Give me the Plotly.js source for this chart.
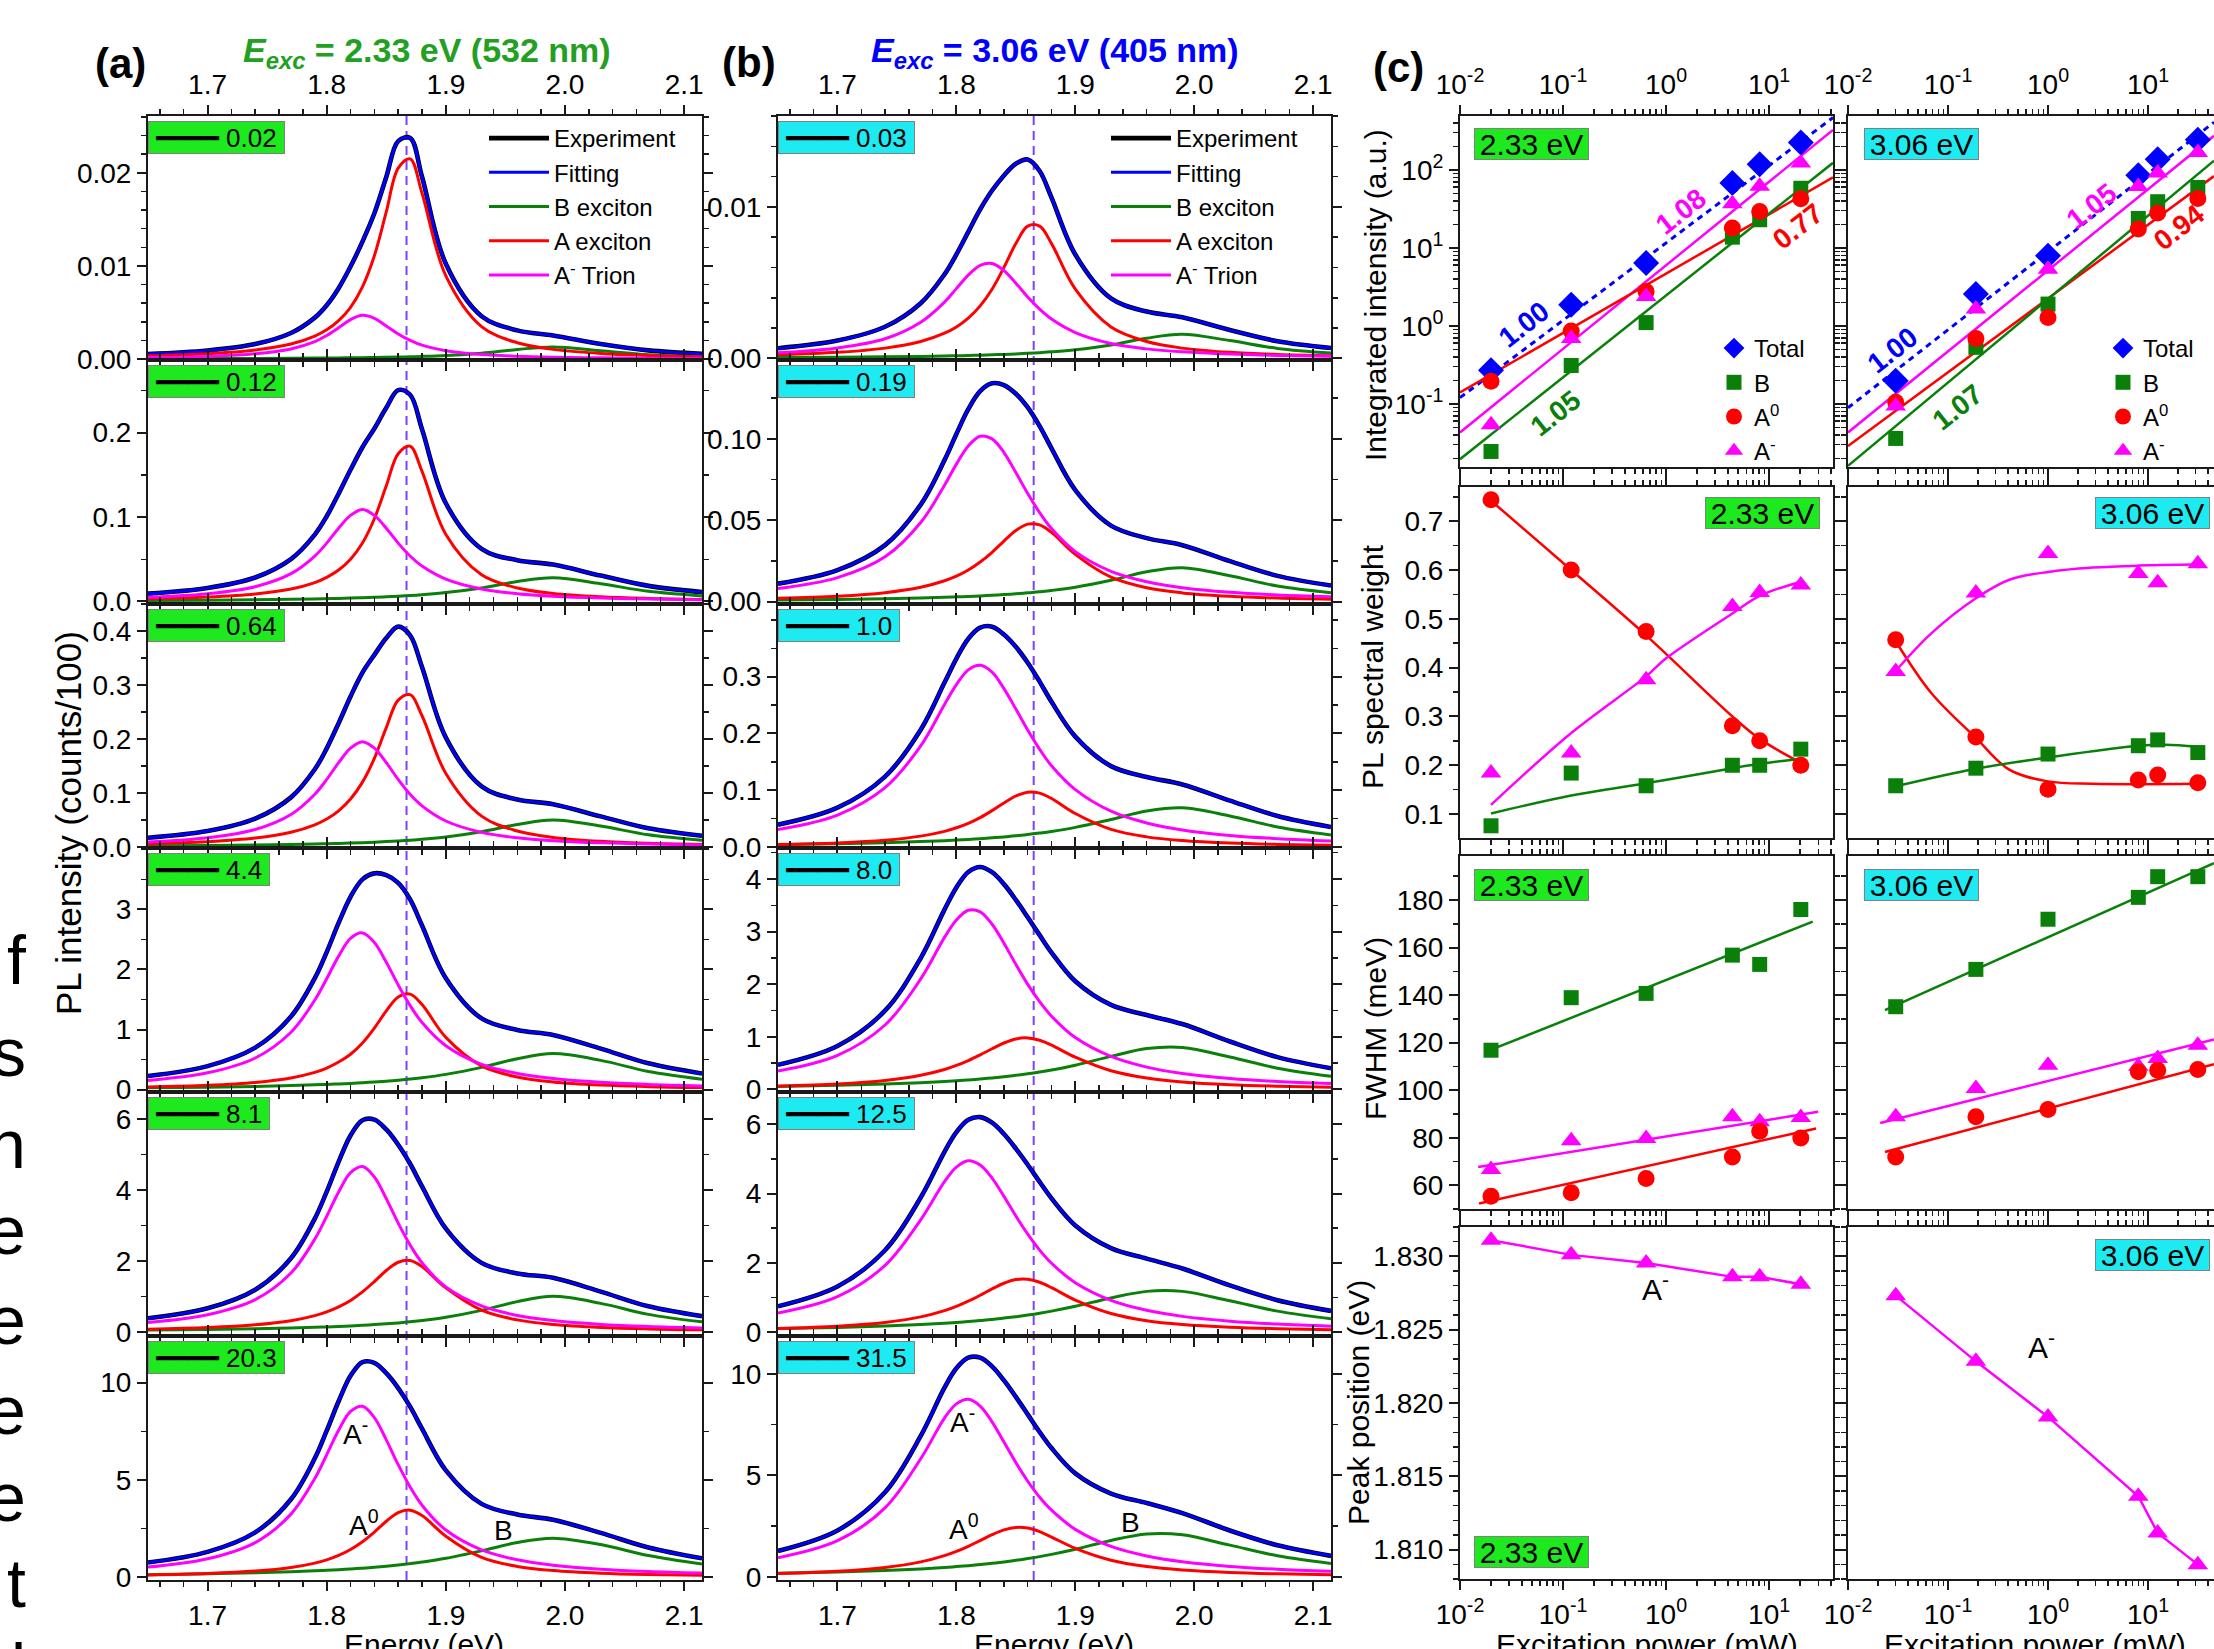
<!DOCTYPE html>
<html><head><meta charset="utf-8">
<script src="https://cdn.plot.ly/plotly-3.0.1.min.js"></script>
<style>html,body{margin:0;padding:0;background:#fff}#chart{width:2214px;height:1649px}</style>
</head><body><div id="chart"></div>
<script>
// ---------------- DATA ----------------
const energy = [1.65, 1.70, 1.74, 1.77, 1.79, 1.80, 1.81, 1.82, 1.83, 1.84, 1.85, 1.86, 1.87, 1.88, 1.90, 1.93, 1.96, 1.99, 2.03, 2.07, 2.115];
const energyTicks = [1.7, 1.8, 1.9, 2.0, 2.1];
const powers233 = [0.02, 0.12, 0.64, 4.4, 8.1, 20.3];
const powers306 = [0.03, 0.19, 1.0, 8.0, 12.5, 31.5];
const powerLabels233 = ['0.02', '0.12', '0.64', '4.4', '8.1', '20.3'];
const powerLabels306 = ['0.03', '0.19', '1.0', '8.0', '12.5', '31.5'];
const aExcitonLine233 = 1.867;
const aExcitonLine306 = 1.865;

// spectra components, 2.33 eV excitation (one array per power)
const specB233 = [
 [0.000037,0.000051,0.000068,0.000086,0.000102,0.000112,0.000124,0.000138,0.000153,0.000172,0.000193,0.000219,0.00025,0.000286,0.000386,0.000633,0.00103,0.0013,0.000885,0.000453,0.000234],
 [0.00112,0.00152,0.00201,0.00253,0.00302,0.00331,0.00363,0.004,0.00445,0.00494,0.00556,0.00623,0.00701,0.008,0.0105,0.016,0.0236,0.028,0.021,0.012,0.0066],
 [0.00204,0.00276,0.00364,0.00458,0.00542,0.00595,0.00655,0.00719,0.00795,0.00883,0.0099,0.0111,0.0125,0.0142,0.0185,0.0282,0.0415,0.05,0.0388,0.0225,0.0124],
 [0.03,0.0404,0.053,0.0666,0.0786,0.0858,0.0942,0.103,0.115,0.126,0.14,0.157,0.176,0.197,0.253,0.37,0.514,0.599,0.486,0.302,0.173],
 [0.0477,0.0641,0.0846,0.106,0.125,0.137,0.15,0.165,0.182,0.202,0.224,0.25,0.282,0.318,0.409,0.604,0.851,0.999,0.802,0.49,0.279],
 [0.125,0.168,0.219,0.274,0.322,0.35,0.382,0.418,0.46,0.506,0.56,0.622,0.692,0.772,0.966,1.352,1.78,2.0,1.672,1.108,0.67]];
const specA0_233 = [
 [0.000344,0.000575,0.000977,0.00162,0.00247,0.00314,0.00412,0.00556,0.00776,0.0111,0.0158,0.0205,0.0215,0.0178,0.00894,0.00349,0.00175,0.00104,0.0006,0.00039,0.00026],
 [0.00316,0.00526,0.00891,0.0148,0.0224,0.0285,0.0372,0.05,0.0692,0.098,0.137,0.175,0.184,0.154,0.0794,0.0316,0.016,0.00947,0.00552,0.00359,0.00242],
 [0.00587,0.0098,0.0165,0.0272,0.0409,0.0516,0.0667,0.0886,0.12,0.164,0.221,0.272,0.282,0.243,0.136,0.057,0.0294,0.0176,0.0103,0.0067,0.00453],
 [0.0429,0.071,0.119,0.194,0.286,0.358,0.458,0.589,0.776,1.024,1.309,1.542,1.589,1.416,0.869,0.394,0.21,0.126,0.0744,0.0488,0.033],
 [0.0713,0.118,0.195,0.311,0.455,0.56,0.701,0.885,1.125,1.418,1.729,1.963,2.01,1.84,1.238,0.612,0.335,0.207,0.123,0.081,0.055],
 [0.112,0.185,0.307,0.493,0.718,0.887,1.111,1.415,1.815,2.315,2.87,3.319,3.441,3.164,2.105,1.014,0.549,0.335,0.198,0.13,0.0883]];
const specAm233 = [
 [0.000156,0.000289,0.00056,0.00109,0.00188,0.00253,0.00337,0.00424,0.0047,0.00438,0.00356,0.00269,0.002,0.00149,0.0009,0.00048,0.0003,0.0002,0.00013,0.00009,0.00006],
 [0.005,0.00922,0.0175,0.0329,0.0538,0.0691,0.0868,0.102,0.109,0.102,0.0868,0.0691,0.0538,0.0419,0.0264,0.0147,0.00922,0.00626,0.0041,0.00287,0.00205],
 [0.00917,0.0169,0.0322,0.06,0.0975,0.125,0.156,0.183,0.195,0.183,0.156,0.125,0.0975,0.0761,0.048,0.0269,0.0169,0.0115,0.0075,0.00527,0.00376],
 [0.153,0.279,0.526,0.955,1.49,1.845,2.221,2.516,2.607,2.448,2.119,1.741,1.399,1.117,0.731,0.42,0.269,0.184,0.121,0.0859,0.0613],
 [0.261,0.479,0.906,1.658,2.615,3.26,3.946,4.493,4.665,4.371,3.759,3.068,2.452,1.947,1.266,0.729,0.461,0.316,0.208,0.147,0.106],
 [0.513,0.942,1.774,3.238,5.069,6.292,7.55,8.518,8.782,8.202,7.058,5.782,4.638,3.696,2.42,1.399,0.889,0.612,0.404,0.285,0.205]];

// spectra components, 3.06 eV excitation
const specB306 = [
 [0.000061,0.000082,0.000109,0.000138,0.000163,0.000179,0.000197,0.000218,0.000242,0.00027,0.000302,0.000339,0.000384,0.000437,0.000578,0.000894,0.00134,0.0016,0.00118,0.000666,0.000362],
 [0.00099,0.00134,0.00177,0.00223,0.00264,0.00289,0.00316,0.00347,0.00387,0.00431,0.00478,0.00535,0.00605,0.00682,0.00882,0.0131,0.0183,0.0208,0.0159,0.00955,0.00543],
 [0.00424,0.00571,0.00752,0.00945,0.0111,0.0121,0.0132,0.0146,0.0161,0.0177,0.0197,0.0219,0.0245,0.0274,0.0345,0.0484,0.0632,0.0689,0.0546,0.0353,0.0213],
 [0.0569,0.0773,0.102,0.128,0.151,0.164,0.18,0.198,0.218,0.241,0.267,0.296,0.33,0.369,0.459,0.627,0.776,0.798,0.615,0.403,0.249],
 [0.0946,0.128,0.169,0.212,0.25,0.274,0.298,0.328,0.359,0.398,0.439,0.487,0.54,0.6,0.739,0.98,1.171,1.171,0.899,0.6,0.378],
 [0.171,0.233,0.308,0.387,0.458,0.501,0.548,0.601,0.661,0.73,0.809,0.895,0.993,1.104,1.359,1.791,2.106,2.067,1.558,1.036,0.655]];
const specA0_306 = [
 [0.000243,0.000405,0.000683,0.00112,0.00167,0.00208,0.00266,0.00347,0.00457,0.00601,0.00758,0.00873,0.00873,0.00758,0.00457,0.00208,0.00112,0.000683,0.000405,0.000267,0.000181],
 [0.00199,0.00329,0.00546,0.00878,0.0128,0.0156,0.0194,0.0243,0.0303,0.0372,0.0437,0.0476,0.0471,0.0425,0.029,0.015,0.0085,0.00533,0.00322,0.00214,0.00146],
 [0.00433,0.00717,0.0119,0.0191,0.0275,0.0338,0.0417,0.0518,0.064,0.0776,0.0898,0.0966,0.0948,0.0854,0.0589,0.031,0.0178,0.0113,0.00685,0.00456,0.00312],
 [0.0619,0.102,0.17,0.268,0.378,0.455,0.548,0.656,0.772,0.882,0.959,0.979,0.934,0.841,0.611,0.353,0.215,0.141,0.0879,0.0597,0.0415],
 [0.0985,0.164,0.272,0.433,0.614,0.737,0.886,1.059,1.242,1.406,1.512,1.522,1.434,1.278,0.92,0.532,0.324,0.214,0.135,0.0918,0.0636],
 [0.164,0.273,0.461,0.734,1.044,1.254,1.503,1.784,2.072,2.308,2.433,2.401,2.223,1.959,1.401,0.815,0.503,0.333,0.211,0.145,0.101]];
const specAm306 = [
 [0.000374,0.000693,0.0013,0.00239,0.00372,0.00461,0.0055,0.00615,0.00627,0.0058,0.00497,0.00406,0.00326,0.0026,0.00171,0.00099,0.000634,0.000437,0.000289,0.000204,0.000147],
 [0.008,0.0147,0.0275,0.0486,0.0715,0.0845,0.0957,0.1016,0.1,0.0916,0.0793,0.0664,0.0547,0.0449,0.0307,0.0186,0.0122,0.00854,0.00572,0.00409,0.00297],
 [0.0307,0.0563,0.1046,0.178,0.251,0.286,0.312,0.32,0.308,0.279,0.243,0.206,0.172,0.143,0.101,0.063,0.0422,0.03,0.0203,0.0147,0.0107],
 [0.348,0.646,1.224,2.1,2.89,3.222,3.406,3.376,3.14,2.78,2.377,1.997,1.669,1.392,0.985,0.626,0.423,0.303,0.207,0.15,0.11],
 [0.545,1.02,1.921,3.242,4.346,4.767,4.95,4.826,4.45,3.92,3.351,2.826,2.366,1.985,1.421,0.911,0.623,0.448,0.309,0.225,0.165],
 [0.936,1.776,3.395,5.819,7.823,8.523,8.75,8.418,7.639,6.641,5.626,4.708,3.92,3.281,2.336,1.496,1.026,0.74,0.51,0.372,0.274]];

// (c) integrated intensity
const intTotal233 = [0.27, 1.86, 6.4, 68, 118, 224];
const intB233 = [0.0245, 0.31, 1.1, 13.7, 22.9, 58];
const intA0_233 = [0.195, 0.86, 2.75, 17.9, 29.2, 42.5];
const intAm233 = [0.054, 0.69, 2.37, 36.6, 61.4, 122];
const intTotal306 = [0.197, 2.55, 7.9, 85.5, 137, 243];
const intB306 = [0.036, 0.53, 1.9, 23.8, 39, 59.4];
const intA0_306 = [0.105, 0.69, 1.28, 17.4, 27.9, 43];
const intAm306 = [0.094, 1.64, 5.3, 61, 91, 167];
const intFitP233 = [0.01, 41.7];
const intFitTotal233 = [0.12, 468];
const intFitAm233 = [0.043, 325];
const intFitA0_233 = [0.14, 80];
const intFitB233 = [0.0195, 123];
const intFitP306 = [0.01, 45.7];
const intFitTotal306 = [0.089, 407];
const intFitAm306 = [0.043, 273];
const intFitA0_306 = [0.0288, 83];
const intFitB306 = [0.016, 131];
const slopeLabels233 = ['1.00', '1.08', '0.77', '1.05'];
const slopeLabels306 = ['1.00', '1.05', '0.94', '1.07'];

// (c) spectral weight
const wA0_233 = [0.744, 0.600, 0.474, 0.281, 0.250, 0.200];
const wAm233 = [0.184, 0.225, 0.375, 0.525, 0.554, 0.569];
const wB233 = [0.076, 0.184, 0.158, 0.200, 0.200, 0.233];
const wFitA0_233x = [0.02, 0.12, 0.64, 4.4, 8.1, 20.3];
const wFitA0_233y = [0.742, 0.600, 0.466, 0.300, 0.254, 0.205];
const wFitAm233x = [0.02, 0.12, 0.64, 1.0, 4.4, 8.1, 20.3];
const wFitAm233y = [0.119, 0.266, 0.382, 0.419, 0.511, 0.547, 0.576];
const wFitB233x = [0.02, 0.12, 0.64, 4.4, 8.1, 20.3];
const wFitB233y = [0.101, 0.138, 0.163, 0.194, 0.203, 0.213];
const wA0_306 = [0.457, 0.258, 0.151, 0.170, 0.180, 0.164];
const wAm306 = [0.392, 0.553, 0.634, 0.593, 0.574, 0.613];
const wB306 = [0.158, 0.194, 0.223, 0.240, 0.252, 0.226];
const wFitAm306x = [0.03, 0.068, 0.19, 0.41, 1.0, 2.8, 8.0, 31.5];
const wFitAm306y = [0.393, 0.470, 0.542, 0.580, 0.596, 0.605, 0.609, 0.611];
const wFitA0_306x = [0.03, 0.068, 0.19, 0.41, 1.0, 2.8, 31.5];
const wFitA0_306y = [0.454, 0.348, 0.256, 0.191, 0.167, 0.162, 0.162];
const wFitB306x = [0.03, 0.19, 1.0, 8.0, 15, 31.5];
const wFitB306y = [0.157, 0.193, 0.216, 0.240, 0.242, 0.238];

// (c) FWHM (meV)
const fwB233 = [116.8, 138.9, 140.7, 156.8, 152.9, 176];
const fwAm233 = [66.6, 78.7, 79.7, 88.8, 86.7, 88.5];
const fwA0_233 = [55.4, 56.8, 62.8, 71.9, 82.7, 79.9];
const fwFitB233x = [0.0195, 26.5], fwFitB233y = [116.8, 170.9];
const fwFitAm233x = [0.015, 29.9], fwFitAm233y = [67.7, 90.9];
const fwFitA0_233x = [0.0153, 28.6], fwFitA0_233y = [52.3, 83.9];
const fwB306 = [135.1, 150.8, 171.9, 181.1, 189.8, 189.8];
const fwAm306 = [88.8, 100.7, 110.5, 110.1, 113.3, 118.9];
const fwA0_306 = [71.9, 88.8, 91.9, 107.7, 108.4, 108.7];
const fwFitB306x = [0.0234, 45.7], fwFitB306y = [133.7, 195.5];
const fwFitAm306x = [0.021, 45.7], fwFitAm306y = [86.2, 121.3];
const fwFitA0_306x = [0.0234, 45.7], fwFitA0_306y = [74.0, 110.9];

// (c) A- peak position (eV)
const posAm233 = [1.8311, 1.8301, 1.82955, 1.8286, 1.8286, 1.8281];
const posAm306 = [1.82732, 1.82284, 1.81905, 1.81364, 1.81114, 1.80898];

// ---------------- LAYOUT HELPERS ----------------
const W = 2214, H = 1649;
const FONT = '"Liberation Sans", Arial, "DejaVu Sans", sans-serif';
const px = x => x / W;
const py = y => 1 - y / H;
const dom = r => [1 - r[1] / H, 1 - r[0] / H];
const axId = k => (k === 1 ? '' : String(k));
const xa = k => 'x' + axId(k);
const ya = k => 'y' + axId(k);

const C = {blue: '#0000ff', green: '#0a800a', red: '#ff0000', mag: '#ff00ff', black: '#000000'};
const GREEN_BOX = '#1ee81e', CYAN_BOX = '#1eeaf2';
const LC = '#1a1a1a';

const rowsAB = [[116,360],[360,604],[604,848],[848,1092],[1092,1336],[1336,1580]];
const domA = [148 / W, 702 / W], domB = [778 / W, 1331 / W];
const rowsC = [[116,467],[487,838],[856,1209],[1227,1579]];
const domC1 = [1460 / W, 1833 / W], domC2 = [1848 / W, 1];

const minorBase = {ticks: 'outside', ticklen: 5, tickwidth: 1.5, tickcolor: LC, showgrid: false};
const baseAxis = {showgrid: false, zeroline: false, showline: true, linecolor: LC, linewidth: 2,
  mirror: 'ticks', ticks: 'outside', ticklen: 9, tickwidth: 2, tickcolor: LC,
  tickfont: {family: FONT, size: 28, color: '#000'}, fixedrange: true};

const logTickVals = [0.01, 0.1, 1, 10, 100];
const logTickText = ['10<sup>-2</sup>', '10<sup>-1</sup>', '10<sup>0</sup>', '10<sup>1</sup>', '10<sup>2</sup>'];
const logMinor = [];
for (let d = -2; d <= 2; d++) for (let m = 2; m <= 9; m++) logMinor.push(+(m * Math.pow(10, d)).toPrecision(3));

const yCfgA = [
 {range: [-0.0001, 0.0261], vals: [0, 0.01, 0.02], fmt: '.2f', minor: 0.002},
 {range: [-0.003, 0.286], vals: [0, 0.1, 0.2], fmt: '.1f', minor: 0.05},
 {range: [-0.002, 0.45], vals: [0, 0.1, 0.2, 0.3, 0.4], fmt: '.1f', minor: 0.05},
 {range: [-0.04, 4.02], vals: [0, 1, 2, 3], fmt: 'd', minor: 0.5},
 {range: [-0.12, 6.77], vals: [0, 2, 4, 6], fmt: 'd', minor: 1},
 {range: [-0.15, 12.4], vals: [0, 5, 10], fmt: 'd', minor: 2.5}];
const yCfgB = [
 {range: [-0.0001, 0.016], vals: [0, 0.01], fmt: '.2f', minor: 0.002},
 {range: [-0.0015, 0.1485], vals: [0, 0.05, 0.1], fmt: '.2f', minor: 0.025},
 {range: [-0.0018, 0.428], vals: [0, 0.1, 0.2, 0.3], fmt: '.1f', minor: 0.05},
 {range: [-0.05, 4.59], vals: [0, 1, 2, 3, 4], fmt: 'd', minor: 0.5},
 {range: [-0.12, 6.94], vals: [0, 2, 4, 6], fmt: 'd', minor: 1},
 {range: [-0.16, 11.87], vals: [0, 5, 10], fmt: 'd', minor: 2.5}];

const layout = {width: W, height: H, margin: {l: 0, r: 0, t: 0, b: 0}, paper_bgcolor: '#fff', plot_bgcolor: 'rgba(0,0,0,0)',
  font: {family: FONT, size: 26, color: '#000'}, showlegend: true, annotations: [], shapes: []};
const traces = [];

function specX(domain, k, pos) {
  return Object.assign({}, baseAxis, {domain, anchor: ya(k), range: [1.65, 2.115], side: pos === 'top' ? 'top' : 'bottom',
    showticklabels: pos !== 'mid', tickmode: 'array', tickvals: energyTicks, tickformat: '.1f',
    minor: Object.assign({}, minorBase, {tickmode: 'linear', tick0: 1.7, dtick: 0.02})});
}
function specY(k, row, cfg) {
  return Object.assign({}, baseAxis, {domain: dom(row), anchor: xa(k), range: cfg.range, tickmode: 'array', tickvals: cfg.vals,
    tickformat: cfg.fmt, minor: Object.assign({}, minorBase, {tickmode: 'linear', tick0: 0, dtick: cfg.minor})});
}
function addSpectrum(k, b, a0, am, legendId, show) {
  const fit = energy.map((_, i) => b[i] + a0[i] + am[i]);
  const common = {xaxis: xa(k), yaxis: ya(k), mode: 'lines', showlegend: show, hoverinfo: 'skip'};
  if (show) common.legend = legendId;
  traces.push(Object.assign({}, common, {x: energy, y: fit, name: 'Experiment', line: {color: C.black, width: 4.6, shape: 'spline'}}));
  traces.push(Object.assign({}, common, {x: energy, y: fit, name: 'Fitting', line: {color: C.blue, width: 3, shape: 'spline'}}));
  traces.push(Object.assign({}, common, {x: energy, y: b, name: 'B exciton', line: {color: C.green, width: 3, shape: 'spline'}}));
  traces.push(Object.assign({}, common, {x: energy, y: a0, name: 'A exciton', line: {color: C.red, width: 3, shape: 'spline'}}));
  traces.push(Object.assign({}, common, {x: energy, y: am, name: 'A<sup>-</sup> Trion', line: {color: C.mag, width: 3, shape: 'spline'}}));
}
function powerBox(k, label, color) {
  return {xref: xa(k) + ' domain', yref: ya(k) + ' domain', x: 0, y: 1, xanchor: 'left', yanchor: 'top', yshift: -5,
    text: '\u00a0\u2501\u2501\u2501\u2501\u00a0' + label + '\u00a0', showarrow: false, bgcolor: color, bordercolor: '#808080',
    borderwidth: 1, borderpad: 0, height: 31, font: {family: FONT, size: 26, color: '#000'}};
}

// panels (a) and (b)
for (let i = 0; i < 6; i++) {
  const pos = i === 0 ? 'top' : (i === 5 ? 'bottom' : 'mid');
  const kA = i + 1, kB = i + 7;
  layout['xaxis' + axId(kA)] = specX(domA, kA, pos);
  layout['yaxis' + axId(kA)] = specY(kA, rowsAB[i], yCfgA[i]);
  layout['xaxis' + axId(kB)] = specX(domB, kB, pos);
  layout['yaxis' + axId(kB)] = specY(kB, rowsAB[i], yCfgB[i]);
  addSpectrum(kA, specB233[i], specA0_233[i], specAm233[i], 'legend', i === 0);
  addSpectrum(kB, specB306[i], specA0_306[i], specAm306[i], 'legend2', i === 0);
  layout.annotations.push(powerBox(kA, powerLabels233[i], GREEN_BOX));
  layout.annotations.push(powerBox(kB, powerLabels306[i], CYAN_BOX));
}
layout.shapes.push({type: 'line', xref: 'x', yref: 'paper', x0: aExcitonLine233, x1: aExcitonLine233, y0: py(1580), y1: py(116),
  line: {color: '#7f3fff', width: 2, dash: '9px,6px'}, layer: 'below'});
layout.shapes.push({type: 'line', xref: 'x7', yref: 'paper', x0: aExcitonLine306, x1: aExcitonLine306, y0: py(1580), y1: py(116),
  line: {color: '#7f3fff', width: 2, dash: '9px,6px'}, layer: 'below'});

// panel (c)
const cY = [
 {type: 'log', range: [-1.81, 2.69], tickmode: 'array', tickvals: logTickVals, ticktext: logTickText,
  minor: Object.assign({}, minorBase, {tickmode: 'array', tickvals: logMinor})},
 {range: [0.051, 0.77], tickmode: 'array', tickvals: [0.1, 0.2, 0.3, 0.4, 0.5, 0.6, 0.7], tickformat: '.1f',
  minor: Object.assign({}, minorBase, {tickmode: 'linear', tick0: 0, dtick: 0.05})},
 {range: [50, 198.5], tickmode: 'array', tickvals: [60, 80, 100, 120, 140, 160, 180], tickformat: 'd',
  minor: Object.assign({}, minorBase, {tickmode: 'linear', tick0: 0, dtick: 10})},
 {range: [1.808, 1.832], tickmode: 'array', tickvals: [1.81, 1.815, 1.82, 1.825, 1.83], tickformat: '.3f',
  minor: Object.assign({}, minorBase, {tickmode: 'linear', tick0: 1.8, dtick: 0.001})}];
const ck = (row, col) => 13 + row * 2 + col;
for (let r = 0; r < 4; r++) {
  for (let c = 0; c < 2; c++) {
    const k = ck(r, c);
    layout['xaxis' + axId(k)] = Object.assign({}, baseAxis, {type: 'log', domain: c === 0 ? domC1 : domC2, anchor: ya(k),
      range: c === 0 ? [-2, 1.62] : [-2, 1.66], side: r === 0 ? 'top' : 'bottom', showticklabels: r === 0 || r === 3,
      tickmode: 'array', tickvals: logTickVals, ticktext: logTickText,
      minor: Object.assign({}, minorBase, {tickmode: 'array', tickvals: logMinor})});
    layout['yaxis' + axId(k)] = Object.assign({}, baseAxis, cY[r], {domain: dom(rowsC[r]), anchor: xa(k),
      showticklabels: c === 0, mirror: c === 0 ? 'ticks' : false});
  }
}
function addMarkers(k, x, y, name, symbol, color, size, legendId) {
  const t = {x, y, xaxis: xa(k), yaxis: ya(k), mode: 'markers', name, showlegend: !!legendId, hoverinfo: 'skip',
    marker: {symbol, color, size, line: {width: 0}}};
  if (legendId) t.legend = legendId;
  traces.push(t);
}
function addLine(k, x, y, color, opts) {
  opts = opts || {};
  const t = {x, y, xaxis: xa(k), yaxis: ya(k), mode: opts.mode || 'lines', showlegend: false, hoverinfo: 'skip',
    line: {color, width: opts.width || 2.5, dash: opts.dash || 'solid', shape: opts.shape || 'linear'}};
  if (opts.marker) t.marker = opts.marker;
  traces.push(t);
}
// row 1: integrated intensity
addLine(ck(0,0), intFitP233, intFitTotal233, C.blue, {dash: '6px,5px', width: 3});
addLine(ck(0,0), intFitP233, intFitAm233, C.mag);
addLine(ck(0,0), intFitP233, intFitA0_233, C.red);
addLine(ck(0,0), intFitP233, intFitB233, C.green);
addMarkers(ck(0,0), powers233, intTotal233, 'Total', 'diamond', C.blue, 20, 'legend3');
addMarkers(ck(0,0), powers233, intB233, 'B', 'square', C.green, 15, 'legend3');
addMarkers(ck(0,0), powers233, intA0_233, 'A<sup>0</sup>', 'circle', C.red, 17, 'legend3');
addMarkers(ck(0,0), powers233, intAm233, 'A<sup>-</sup>', 'triangle-up', C.mag, 18, 'legend3');
addLine(ck(0,1), intFitP306, intFitTotal306, C.blue, {dash: '6px,5px', width: 3});
addLine(ck(0,1), intFitP306, intFitAm306, C.mag);
addLine(ck(0,1), intFitP306, intFitA0_306, C.red);
addLine(ck(0,1), intFitP306, intFitB306, C.green);
addMarkers(ck(0,1), powers306, intTotal306, 'Total', 'diamond', C.blue, 20, 'legend4');
addMarkers(ck(0,1), powers306, intB306, 'B', 'square', C.green, 15, 'legend4');
addMarkers(ck(0,1), powers306, intA0_306, 'A<sup>0</sup>', 'circle', C.red, 17, 'legend4');
addMarkers(ck(0,1), powers306, intAm306, 'A<sup>-</sup>', 'triangle-up', C.mag, 18, 'legend4');
// row 2: spectral weight
addLine(ck(1,0), wFitA0_233x, wFitA0_233y, C.red, {shape: 'spline'});
addLine(ck(1,0), wFitAm233x, wFitAm233y, C.mag, {shape: 'spline'});
addLine(ck(1,0), wFitB233x, wFitB233y, C.green, {shape: 'spline'});
addMarkers(ck(1,0), powers233, wA0_233, 'A0', 'circle', C.red, 17);
addMarkers(ck(1,0), powers233, wAm233, 'A-', 'triangle-up', C.mag, 18);
addMarkers(ck(1,0), powers233, wB233, 'B', 'square', C.green, 15);
addLine(ck(1,1), wFitA0_306x, wFitA0_306y, C.red, {shape: 'spline'});
addLine(ck(1,1), wFitAm306x, wFitAm306y, C.mag, {shape: 'spline'});
addLine(ck(1,1), wFitB306x, wFitB306y, C.green, {shape: 'spline'});
addMarkers(ck(1,1), powers306, wA0_306, 'A0', 'circle', C.red, 17);
addMarkers(ck(1,1), powers306, wAm306, 'A-', 'triangle-up', C.mag, 18);
addMarkers(ck(1,1), powers306, wB306, 'B', 'square', C.green, 15);
// row 3: FWHM
addLine(ck(2,0), fwFitB233x, fwFitB233y, C.green);
addLine(ck(2,0), fwFitAm233x, fwFitAm233y, C.mag);
addLine(ck(2,0), fwFitA0_233x, fwFitA0_233y, C.red);
addMarkers(ck(2,0), powers233, fwB233, 'B', 'square', C.green, 15);
addMarkers(ck(2,0), powers233, fwAm233, 'A-', 'triangle-up', C.mag, 18);
addMarkers(ck(2,0), powers233, fwA0_233, 'A0', 'circle', C.red, 17);
addLine(ck(2,1), fwFitB306x, fwFitB306y, C.green);
addLine(ck(2,1), fwFitAm306x, fwFitAm306y, C.mag);
addLine(ck(2,1), fwFitA0_306x, fwFitA0_306y, C.red);
addMarkers(ck(2,1), powers306, fwB306, 'B', 'square', C.green, 15);
addMarkers(ck(2,1), powers306, fwAm306, 'A-', 'triangle-up', C.mag, 18);
addMarkers(ck(2,1), powers306, fwA0_306, 'A0', 'circle', C.red, 17);
// row 4: peak position
addLine(ck(3,0), powers233, posAm233, C.mag, {mode: 'lines+markers', marker: {symbol: 'triangle-up', size: 18, color: C.mag}});
addLine(ck(3,1), powers306, posAm306, C.mag, {mode: 'lines+markers', marker: {symbol: 'triangle-up', size: 18, color: C.mag}});

// legends
const legBase = {bgcolor: 'rgba(0,0,0,0)', borderwidth: 0, xanchor: 'left', yanchor: 'top', tracegroupgap: 0,
  itemclick: false, itemdoubleclick: false};
layout.legend = Object.assign({}, legBase, {x: px(484), y: py(116), itemwidth: 60, font: {family: FONT, size: 24, color: '#000'}});
layout.legend2 = Object.assign({}, legBase, {x: px(1106), y: py(116), itemwidth: 60, font: {family: FONT, size: 24, color: '#000'}});
layout.legend3 = Object.assign({}, legBase, {x: px(1714), y: py(326), font: {family: FONT, size: 24, color: '#000'}});
layout.legend4 = Object.assign({}, legBase, {x: px(2103), y: py(326), font: {family: FONT, size: 24, color: '#000'}});

// text annotations
function ann(text, x, y, o) {
  o = o || {};
  return Object.assign({text, xref: 'paper', yref: 'paper', x: px(x), y: py(y), showarrow: false,
    xanchor: 'center', yanchor: 'middle', font: {family: FONT, size: o.size || 28, color: o.color || '#000'}}, o.extra || {});
}
const A = layout.annotations;
A.push(ann('<b>(a)</b>', 120, 64, {size: 42}));
A.push(ann('<b>(b)</b>', 749, 63, {size: 42}));
A.push(ann('<b>(c)</b>', 1398, 68, {size: 42}));
A.push(ann('<b><i>E</i><sub><i>exc</i></sub> = 2.33 eV (532 nm)</b>', 427, 53, {size: 34, color: '#22a022'}));
A.push(ann('<b><i>E</i><sub><i>exc</i></sub> = 3.06 eV (405 nm)</b>', 1055, 53, {size: 34, color: '#0000ff'}));
A.push(ann('PL intensity (counts/100)', 68, 823, {size: 35, extra: {textangle: -90}}));
A.push(ann('Integrated intensity (a.u.)', 1375, 295, {size: 30, extra: {textangle: -90}}));
A.push(ann('PL spectral weight', 1372, 667, {size: 30, extra: {textangle: -90}}));
A.push(ann('FWHM (meV)', 1375, 1029, {size: 30, extra: {textangle: -90}}));
A.push(ann('Peak position (eV)', 1358, 1403, {size: 30, extra: {textangle: -90}}));
A.push(ann('Energy (eV)', 424, 1626, {size: 30, extra: {yanchor: 'top'}}));
A.push(ann('Energy (eV)', 1054, 1626, {size: 30, extra: {yanchor: 'top'}}));
A.push(ann('Excitation power (mW)', 1647, 1626, {size: 30, extra: {yanchor: 'top'}}));
A.push(ann('Excitation power (mW)', 2035, 1626, {size: 30, extra: {yanchor: 'top'}}));
// peak labels in spectra
A.push(ann('A<sup>-</sup>', 355, 1432));
A.push(ann('A<sup>0</sup>', 364, 1523));
A.push(ann('B', 503, 1530));
A.push(ann('A<sup>-</sup>', 962, 1420));
A.push(ann('A<sup>0</sup>', 964, 1527));
A.push(ann('B', 1130, 1522));
A.push(ann('A<sup>-</sup>', 1655, 1287, {size: 30}));
A.push(ann('A<sup>-</sup>', 2041, 1345, {size: 30}));
// slope labels
const slopePos233 = [[1524, 325, C.blue], [1681, 212, C.mag], [1798, 227, C.red], [1555, 413, C.green]];
const slopePos306 = [[1892, 350, C.blue], [2091, 206, C.mag], [2179, 228, C.red], [1957, 407, C.green]];
slopeLabels233.forEach((t, i) => A.push(ann('<b>' + t + '</b>', slopePos233[i][0], slopePos233[i][1], {size: 28, color: slopePos233[i][2], extra: {textangle: -38}})));
slopeLabels306.forEach((t, i) => A.push(ann('<b>' + t + '</b>', slopePos306[i][0], slopePos306[i][1], {size: 28, color: slopePos306[i][2], extra: {textangle: -38}})));
// excitation energy boxes in (c)
function eBox(text, x, y, color) {
  return {text, xref: 'paper', yref: 'paper', x: px(x), y: py(y), xanchor: 'left', yanchor: 'top', showarrow: false,
    bgcolor: color, bordercolor: '#808080', borderwidth: 1, borderpad: 0, width: 113, height: 30,
    font: {family: FONT, size: 30, color: '#000'}};
}
[[1474,128],[1474,869],[1474,1536]].forEach(p => A.push(eBox('2.33 eV', p[0], p[1], GREEN_BOX)));
A.push(eBox('2.33 eV', 1705, 497, GREEN_BOX));
[[1864,128],[1864,869]].forEach(p => A.push(eBox('3.06 eV', p[0], p[1], CYAN_BOX)));
[[2095,497],[2095,1239]].forEach(p => A.push(eBox('3.06 eV', p[0], p[1], CYAN_BOX)));
// cropped letters of neighbouring text at the left edge
const edgeLetters = ['f', 's', 'n', 'e', 'e', 'e', 'e', 't', 'l'];
const edgeY = [960, 1052, 1144, 1230, 1320, 1410, 1497, 1583, 1668];
edgeLetters.forEach((t, i) => A.push(ann(t, 28, edgeY[i], {size: 68, extra: {xanchor: 'right'}})));

Plotly.newPlot('chart', traces, layout, {staticPlot: true, displayModeBar: false});
</script>
</body></html>
